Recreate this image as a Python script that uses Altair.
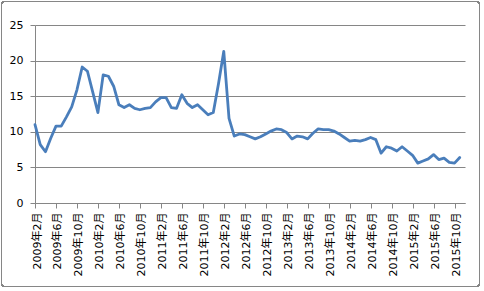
import json
import altair as alt
import pandas as pd

# Monthly series, 2009年2月 .. 2015年11月
start_year, start_month = 2009, 2
values = [
    11.0, 8.2, 7.2, 9.1, 10.8, 10.8, 12.1, 13.5, 15.9, 19.1, 18.5, 15.6,
    12.7, 18.0, 17.8, 16.4, 13.8, 13.4, 13.8, 13.3, 13.1, 13.3, 13.4, 14.2,
    14.8, 14.8, 13.4, 13.3, 15.2, 14.0, 13.4, 13.8, 13.1, 12.4, 12.7, 16.8,
    21.3, 11.9, 9.4, 9.7, 9.6, 9.3, 9.0, 9.3, 9.7, 10.1, 10.4, 10.3,
    9.9, 9.0, 9.4, 9.3, 9.0, 9.8, 10.4, 10.3, 10.3, 10.1, 9.7, 9.2,
    8.7, 8.8, 8.7, 8.9, 9.2, 8.9, 7.0, 7.9, 7.7, 7.3, 7.9, 7.3,
    6.7, 5.6, 5.9, 6.2, 6.8, 6.1, 6.3, 5.7, 5.6, 6.4,
]
months = []
for k in range(len(values)):
    m = start_month - 1 + k
    months.append(f"{start_year + m // 12}年{m % 12 + 1}月")

tick_labels = [
    "2009年2月", "2009年6月", "2009年10月", "2010年2月", "2010年6月",
    "2010年10月", "2011年2月", "2011年6月", "2011年10月", "2012年2月",
    "2012年6月", "2012年10月", "2013年2月", "2013年6月", "2013年10月",
    "2014年2月", "2014年6月", "2014年10月", "2015年2月", "2015年6月",
    "2015年10月",
]
tick_positions = [months.index(t) for t in tick_labels]
y_ticks = [0, 5, 10, 15, 20, 25]

df = pd.DataFrame({"idx": list(range(len(values))), "month": months, "value": values})

FONT = "DejaVu Sans, 'Noto Sans CJK JP', sans-serif"
GRAY = "#868686"
label_expr = json.dumps(tick_labels, ensure_ascii=False) + "[round(datum.value/4)]"

line = alt.Chart(df).mark_line(
    color="#4A7EBB", strokeWidth=2.8, strokeJoin="round", strokeCap="round"
).encode(
    x=alt.X(
        "idx:Q",
        scale=alt.Scale(domain=[0, len(values)], nice=False, zero=False),
        axis=alt.Axis(
            values=tick_positions,
            labelExpr=label_expr,
            labelAngle=-90,
            grid=False,
            domainColor=GRAY,
            tickColor=GRAY,
            tickSize=5,
            labelPadding=4,
            labelOffset=2,
            labelFont=FONT,
            labelFontSize=11,
            labelColor="#000000",
            labelOverlap=False,
            labelBound=False,
            labelFlush=False,
            title=None,
        ),
    ),
    y=alt.Y(
        "value:Q",
        scale=alt.Scale(domain=[0, 25], nice=False),
        axis=alt.Axis(
            values=y_ticks,
            grid=True,
            gridColor=GRAY,
            gridWidth=1,
            domainColor=GRAY,
            tickColor=GRAY,
            tickSize=5,
            labelPadding=7,
            labelFont=FONT,
            labelFontSize=11,
            labelColor="#000000",
            title=None,
        ),
    ),
)

frame = alt.Chart(df).mark_rect(
    fill="transparent", stroke=GRAY, strokeWidth=1, cornerRadius=3
).encode(
    x=alt.value(-33.5), x2=alt.value(444.5), y=alt.value(-23.5), y2=alt.value(261.5)
)

chart = alt.layer(frame, line).properties(
    width=430,
    height=178,
    autosize=alt.AutoSizeParams(type="none"),
    padding={"left": 35, "top": 25, "right": 19, "bottom": 88},
    background="white",
).configure_view(strokeWidth=0)

chart.save("out.html", embed_options={"renderer": "svg", "actions": False})
